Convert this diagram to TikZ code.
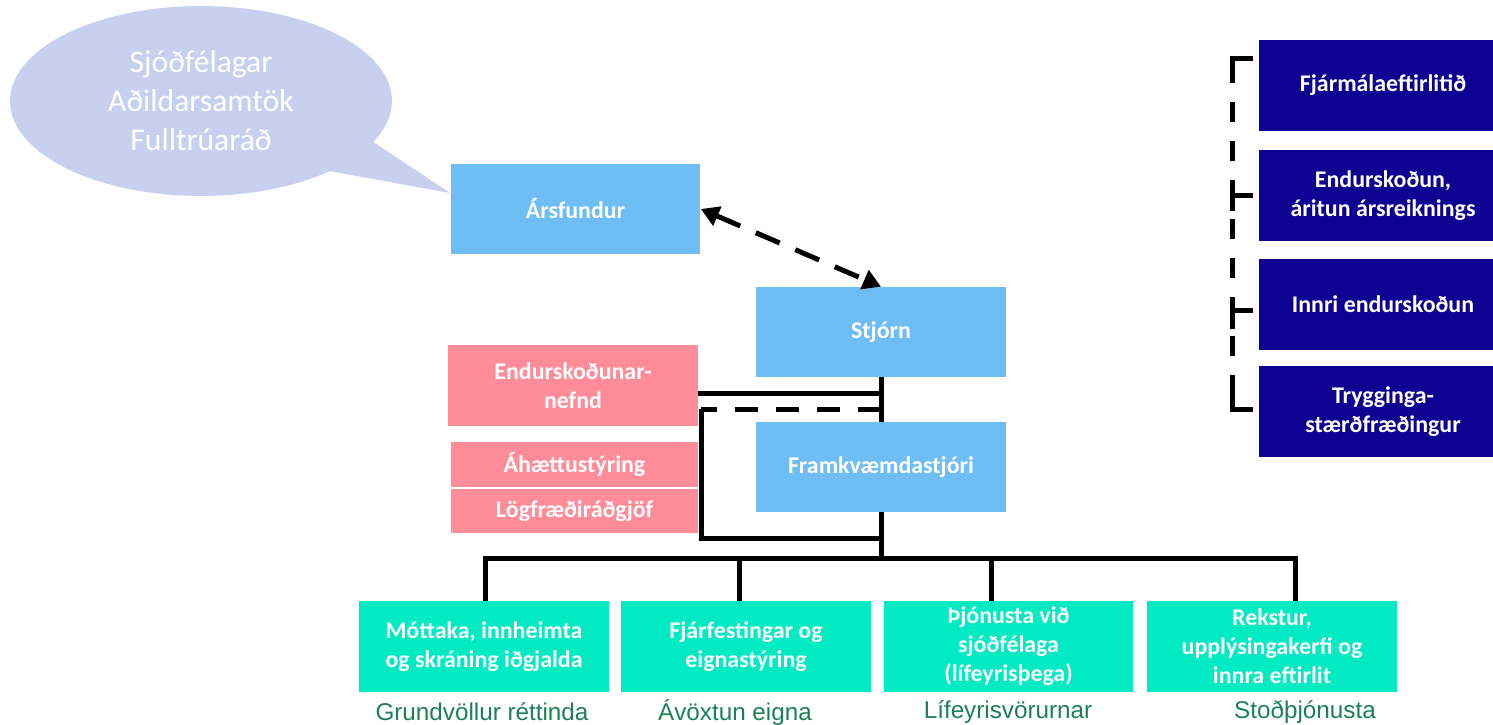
\documentclass[tikz,border=0pt]{standalone}
\usepackage{fontspec}
\setmainfont{Carlito}
\newfontfamily\labelfont{Liberation Sans}
\usetikzlibrary{arrows.meta,shapes.callouts,shapes.geometric}
\definecolor{bubblefill}{RGB}{200,208,239}
\definecolor{skyblue}{RGB}{110,189,245}
\definecolor{rosefill}{RGB}{255,140,152}
\definecolor{mintfill}{RGB}{0,235,194}
\definecolor{navyfill}{RGB}{14,0,144}
\definecolor{labelgreen}{RGB}{26,128,88}
\begin{document}
\begin{tikzpicture}[x=0.02cm, y=-0.02cm, line join=miter,
  box/.style={rectangle, inner sep=0pt, align=center, text=white,
    font=\fontsize{13.6}{16.5}\selectfont\bfseries},
  bluebox/.style={box, fill=skyblue, minimum width=5cm, minimum height=1.8cm},
  rosebox/.style={box, fill=rosefill, minimum width=4.94cm, minimum height=0.9cm},
  mintbox/.style={box, fill=mintfill, minimum width=5cm, minimum height=1.82cm},
  navybox/.style={box, fill=navyfill, minimum width=4.96cm, minimum height=1.82cm},
  unitlabel/.style={text=labelgreen, inner sep=0pt, font=\labelfont\fontsize{13.8}{16}\selectfont},
  conn/.style={line width=0.1cm},
  dashconn/.style={conn, dash pattern=on 0.46cm off 0.36cm},
  bracketdash/.style={conn, dash pattern=on 0.4cm off 0.38cm, dash phase=-0.1cm},
  dasharrow/.style={conn, dash pattern=on 0.52cm off 0.34cm,
    {Triangle[length=0.36cm,width=0.4cm]}-{Triangle[length=0.36cm,width=0.4cm]}}]
\useasboundingbox (0,0) rectangle (1493,724);

\node[bluebox] (ars) at (575.5,209) {Ársfundur};
\node[bluebox] (stj) at (881,332) {Stjórn};
\node[bluebox] (fmk) at (881,467) {Framkvæmdastjóri};

\node[ellipse callout, fill=bubblefill, text=white, inner sep=0pt,
  minimum width=7.64cm, minimum height=3.8cm, callout pointer arc=22,
  callout absolute pointer={([yshift=0.32cm]ars.west)}, align=center,
  font=\fontsize{18}{22.2}\selectfont] (hop) at (201,101)
  {Sjóðfélagar\\Aðildarsamtök\\Fulltrúaráð};

\node[rosebox, minimum width=5cm, minimum height=1.62cm] (ern) at (573,385.5) {Endurskoðunar-\\nefnd};
\node[rosebox] (ahs) at (574.5,464.5) {Áhættustýring};
\node[rosebox, minimum height=0.88cm] (lgf) at (574.5,511) {Lögfræðiráðgjöf};

\node[mintbox] (mot) at (484,646.5) {Móttaka, innheimta\\og skráning iðgjalda};
\node[mintbox] (fja) at (746,646.5) {Fjárfestingar og\\eignastýring};
\node[mintbox] (thj) at (1008.5,646.5) {Þjónusta við\\sjóðfélaga\\(lífeyrisþega)};
\node[mintbox] (rek) at (1272,646.5) {Rekstur,\\upplýsingakerfi og\\innra eftirlit};

\node[unitlabel] (lgr) at (482,712) {Grundvöllur réttinda};
\node[unitlabel] (lav) at (735,712) {Ávöxtun eigna};
\node[unitlabel] (llf) at (1008,712) {Lífeyrisvörurnar};
\node[unitlabel] (lst) at (1305,712) {Stoðþjónusta};

\node[navybox] (fme) at (1383,85.5) {Fjármálaeftirlitið};
\node[navybox] (end) at (1383,195.5) {Endurskoðun,\\áritun ársreiknings};
\node[navybox] (inn) at (1383,304) {Innri endurskoðun};
\node[navybox] (try) at (1383,411.5) {Trygginga-\\stærðfræðingur};

\draw[dasharrow] (ars.east) -- (stj.north);
\draw[conn] (stj.south) -- (fmk.north);
\draw[conn] ([yshift=-0.15cm]ern.east) -- ([yshift=-0.15cm]ern.east -| stj.south);
\coordinate (kink) at (701,409);
\coordinate (knee) at (701,538);
\draw[dashconn] (stj.south |- kink) -- (kink);
\draw[conn] (kink) -- (knee) -- (knee -| fmk.south);

\draw[conn] (fmk.south) -- ++(0,46) coordinate (bus);
\draw[conn] ([xshift=0.02cm]mot.north) |- (bus) -| ([xshift=0.46cm]rek.north);
\draw[conn] ([xshift=-0.14cm]fja.north |- bus) -- ([xshift=-0.14cm]fja.north);
\draw[conn] ([xshift=-0.35cm]thj.north |- bus) -- ([xshift=-0.35cm]thj.north);

\coordinate (brtop) at (1232,58);
\coordinate (brbot) at (1232,409);
\draw[bracketdash] (brtop) -- (brbot);
\draw[conn] ([xshift=-0.12cm]fme.west |- brtop) -- (brtop) -- ++(0,25);
\draw[conn] ([xshift=-0.12cm]try.west |- brbot) -- (brbot) -- ++(0,-28);
\draw[conn] (brtop |- end.west) -- ([xshift=-0.12cm]end.west);
\draw[conn] ([yshift=0.2cm]brtop |- end.west) -- ([yshift=-0.3cm]brtop |- end.west);
\draw[conn] ([yshift=-0.12cm]inn.west -| brtop) -- ([xshift=-0.12cm,yshift=-0.12cm]inn.west);
\draw[conn] ([yshift=-0.12cm]inn.west -| brtop) -- ([yshift=-0.5cm]inn.west -| brtop);
\end{tikzpicture}
\end{document}
